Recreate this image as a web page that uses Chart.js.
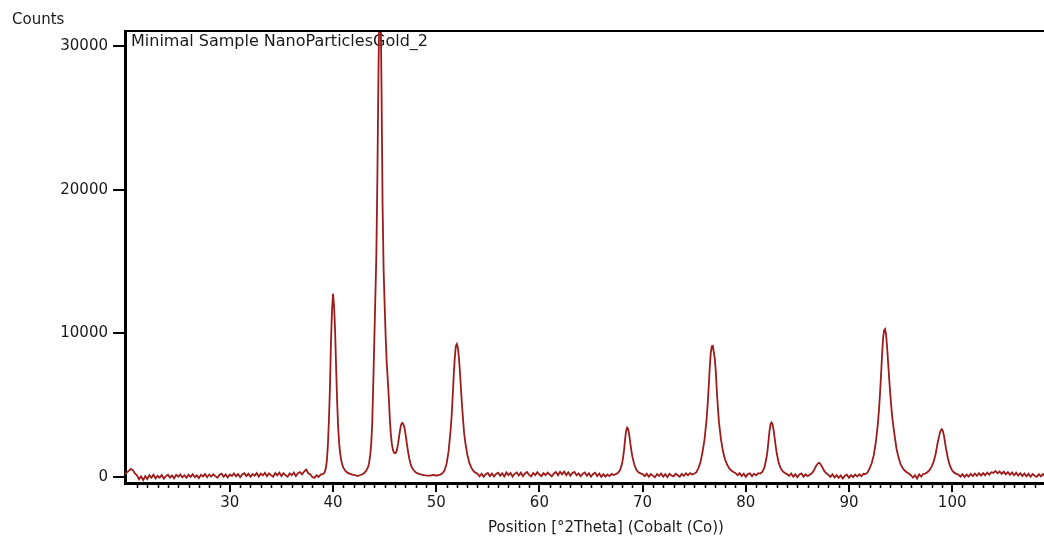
<!DOCTYPE html>
<html>
<head>
<meta charset="utf-8">
<script src="https://cdn.jsdelivr.net/npm/chart.js@4.4.1/dist/chart.umd.min.js"></script>
<style>
  html, body { margin: 0; padding: 0; background: #fff; }
  #wrap { width: 1044px; height: 538px; }
</style>
</head>
<body>
<div id="wrap"><canvas id="xrdChart" width="1044" height="538"></canvas></div>
<script>
// scan positions [°2Theta]
const twoTheta = [
  19.8, 20.0, 20.2, 20.4, 20.6, 20.8, 21.0, 21.2, 21.4, 21.6,
  21.8, 22.0, 22.2, 22.4, 22.6, 22.8, 23.0, 23.2, 23.4, 23.6,
  23.8, 24.0, 24.2, 24.4, 24.6, 24.8, 25.0, 25.2, 25.4, 25.6,
  25.8, 26.0, 26.2, 26.4, 26.6, 26.8, 27.0, 27.2, 27.4, 27.6,
  27.8, 28.0, 28.2, 28.4, 28.6, 28.8, 29.0, 29.2, 29.4, 29.6,
  29.8, 30.0, 30.2, 30.4, 30.6, 30.8, 31.0, 31.2, 31.4, 31.6,
  31.8, 32.0, 32.2, 32.4, 32.6, 32.8, 33.0, 33.2, 33.4, 33.6,
  33.8, 34.0, 34.2, 34.4, 34.6, 34.8, 35.0, 35.2, 35.4, 35.6,
  35.8, 36.0, 36.2, 36.4, 36.6, 36.8, 37.0, 37.2, 37.4, 37.6,
  37.8, 38.0, 38.2, 38.4, 38.6, 38.8, 39.0, 39.1, 39.2, 39.3,
  39.4, 39.5, 39.6, 39.7, 39.8, 39.9, 40.0, 40.1, 40.2, 40.3,
  40.4, 40.5, 40.6, 40.7, 40.8, 40.9, 41.0, 41.2, 41.4, 41.6,
  41.8, 42.0, 42.2, 42.4, 42.6, 42.8, 43.0, 43.2, 43.4, 43.5,
  43.6, 43.7, 43.8, 43.9, 44.0, 44.1, 44.2, 44.3, 44.4, 44.5,
  44.6, 44.7, 44.8, 44.9, 45.0, 45.1, 45.2, 45.3, 45.4, 45.5,
  45.6, 45.7, 45.8, 45.9, 46.0, 46.1, 46.2, 46.3, 46.4, 46.5,
  46.6, 46.7, 46.8, 46.9, 47.0, 47.1, 47.2, 47.3, 47.4, 47.5,
  47.6, 47.8, 48.0, 48.2, 48.4, 48.6, 48.8, 49.0, 49.2, 49.4,
  49.6, 49.8, 50.0, 50.2, 50.4, 50.6, 50.8, 51.0, 51.2, 51.4,
  51.5, 51.6, 51.7, 51.8, 51.9, 52.0, 52.1, 52.2, 52.3, 52.4,
  52.5, 52.6, 52.7, 52.8, 53.0, 53.2, 53.4, 53.6, 53.8, 54.0,
  54.2, 54.4, 54.6, 54.8, 55.0, 55.2, 55.4, 55.6, 55.8, 56.0,
  56.2, 56.4, 56.6, 56.8, 57.0, 57.2, 57.4, 57.6, 57.8, 58.0,
  58.2, 58.4, 58.6, 58.8, 59.0, 59.2, 59.4, 59.6, 59.8, 60.0,
  60.2, 60.4, 60.6, 60.8, 61.0, 61.2, 61.4, 61.6, 61.8, 62.0,
  62.2, 62.4, 62.6, 62.8, 63.0, 63.2, 63.4, 63.6, 63.8, 64.0,
  64.2, 64.4, 64.6, 64.8, 65.0, 65.2, 65.4, 65.6, 65.8, 66.0,
  66.2, 66.4, 66.6, 66.8, 67.0, 67.2, 67.4, 67.6, 67.8, 68.0,
  68.1, 68.2, 68.3, 68.4, 68.5, 68.6, 68.7, 68.8, 68.9, 69.0,
  69.2, 69.4, 69.6, 69.8, 70.0, 70.2, 70.4, 70.6, 70.8, 71.0,
  71.2, 71.4, 71.6, 71.8, 72.0, 72.2, 72.4, 72.6, 72.8, 73.0,
  73.2, 73.4, 73.6, 73.8, 74.0, 74.2, 74.4, 74.6, 74.8, 75.0,
  75.2, 75.4, 75.6, 75.8, 76.0, 76.2, 76.3, 76.4, 76.5, 76.6,
  76.7, 76.8, 76.9, 77.0, 77.1, 77.2, 77.3, 77.4, 77.6, 77.8,
  78.0, 78.2, 78.4, 78.6, 78.8, 79.0, 79.2, 79.4, 79.6, 79.8,
  80.0, 80.2, 80.4, 80.6, 80.8, 81.0, 81.2, 81.4, 81.6, 81.8,
  82.0, 82.1, 82.2, 82.3, 82.4, 82.5, 82.6, 82.7, 82.8, 82.9,
  83.0, 83.2, 83.4, 83.6, 83.8, 84.0, 84.2, 84.4, 84.6, 84.8,
  85.0, 85.2, 85.4, 85.6, 85.8, 86.0, 86.2, 86.4, 86.6, 86.8,
  87.0, 87.1, 87.2, 87.4, 87.6, 87.8, 88.0, 88.2, 88.4, 88.6,
  88.8, 89.0, 89.2, 89.4, 89.6, 89.8, 90.0, 90.2, 90.4, 90.6,
  90.8, 91.0, 91.2, 91.4, 91.6, 91.8, 92.0, 92.2, 92.4, 92.6,
  92.8, 92.9, 93.0, 93.1, 93.2, 93.3, 93.4, 93.5, 93.6, 93.7,
  93.8, 93.9, 94.0, 94.1, 94.2, 94.4, 94.6, 94.8, 95.0, 95.2,
  95.4, 95.6, 95.8, 96.0, 96.2, 96.4, 96.6, 96.8, 97.0, 97.2,
  97.4, 97.6, 97.8, 98.0, 98.2, 98.4, 98.6, 98.8, 98.9, 99.0,
  99.1, 99.2, 99.3, 99.4, 99.6, 99.8, 100.0, 100.2, 100.4, 100.6,
  100.8, 101.0, 101.2, 101.4, 101.6, 101.8, 102.0, 102.2, 102.4, 102.6,
  102.8, 103.0, 103.2, 103.4, 103.6, 103.8, 104.0, 104.2, 104.4, 104.6,
  104.8, 105.0, 105.2, 105.4, 105.6, 105.8, 106.0, 106.2, 106.4, 106.6,
  106.8, 107.0, 107.2, 107.4, 107.6, 107.8, 108.0, 108.2, 108.4, 108.6,
  108.8, 109.0
];

// counts at each position (same row layout as twoTheta)
const counts = [
  150, 300, 420, 560, 480, 250, 120, -160, 40, -220,
  60, -140, 130, -60, 150, -100, 80, -50, 140, -120,
  60, 160, -40, 110, -90, 150, 20, 180, -30, 120,
  -60, 160, 10, 190, -20, 110, -80, 150, 40, 210,
  -20, 170, 30, 190, 60, -50, 150, 230, 20, 180,
  -30, 170, 60, 240, 40, 200, -20, 180, 260, 60,
  220, 20, 200, 90, 270, 30, 230, 100, 290, 60,
  250, 110, 20, 270, 120, 310, 60, 260, 110, 20,
  250, 120, 310, 60, 260, 340, 180, 380, 520, 260,
  180, 0, -60, 120, 0, 160, 200, 240, 340, 600,
  1100, 2200, 3900, 6200, 9400, 11600, 12750, 11900, 10200, 7600,
  5200, 3400, 2300, 1600, 1150, 850, 650, 420, 300, 230,
  180, 140, 110, 60, 120, 170, 260, 420, 700, 1000,
  1500, 2300, 3800, 6500, 9500, 12500, 15500, 21000, 28000, 33000,
  33500, 27000, 19000, 14500, 12000, 9800, 8000, 6800, 5600, 4100,
  3000, 2300, 1900, 1700, 1650, 1700, 1900, 2300, 2800, 3300,
  3650, 3770, 3700, 3500, 3100, 2600, 2100, 1650, 1250, 950,
  720, 480, 330, 250, 200, 160, 130, 110, 100, 90,
  120, 150, 90, 130, 160, 250, 450, 900, 1800, 3300,
  4300, 5700, 7100, 8300, 9100, 9250, 9000, 8300, 7300, 6100,
  5000, 4000, 3100, 2500, 1600, 1000, 650, 420, 300, 220,
  40, 220, 20, 200, 280, 60, 240, 30, 210, 300,
  80, 260, 40, 320, 130, 280, 30, 220, 310, 100,
  300, 60, 240, 350, 140, 40, 280, 130, 330, 170,
  60, 260, 120, 310, 170, 40, 250, 340, 120, 360,
  190, 380, 130, 320, 90, 280, 350, 110, 250, 50,
  230, 310, 90, 260, 20, 210, 300, 60, 240, 10,
  200, 20, 170, 60, 210, 130, 200, 280, 450, 900,
  1300, 1850, 2600, 3200, 3440, 3350, 2950, 2400, 1900, 1450,
  850, 500, 330, 250, 200, 60, 230, 20, 200, 80,
  -20, 200, 70, 240, 20, 190, -10, 220, 100, 40,
  230, 120, 10, 210, 70, 260, 120, 270, 170, 220,
  320, 600, 1000, 1700, 2600, 4000, 5000, 6200, 7500, 8600,
  9100, 9130, 8700, 8200, 7300, 5900, 4800, 3800, 2600, 1750,
  1200, 850, 600, 450, 350, 280, 120, 260, 60, 230,
  10, 200, 250, 50, 230, 110, 260, 240, 350, 650,
  1300, 1800, 2500, 3200, 3700, 3800, 3650, 3250, 2700, 2150,
  1650, 950, 580, 380, 280, 200, 70, 240, 20, 190,
  -20, 170, 240, 20, 190, 60, 160, 250, 450, 750,
  950, 990, 930, 700, 420, 260, 150, 10, 190, -40,
  130, -60, 110, -100, 80, 160, -50, 130, -10, 170,
  30, 190, 50, 220, 200, 320, 600, 950, 1500, 2400,
  3700, 4600, 5700, 7000, 8400, 9600, 10200, 10290, 9900, 9000,
  7900, 6800, 5800, 4900, 4100, 3000, 2000, 1350, 900, 620,
  450, 330, 240, 120, -40, 120, -120, 180, 20, 220,
  240, 330, 480, 700, 1050, 1600, 2400, 3050, 3250, 3320,
  3200, 2900, 2450, 2000, 1250, 750, 450, 300, 220, 170,
  20, 190, -10, 170, 30, 220, 60, 240, 80, 260,
  90, 270, 120, 310, 160, 330, 280, 420, 260, 380,
  220, 370, 180, 330, 150, 310, 120, 290, 100, 260,
  60, 240, 50, 220, 20, 210, 90, 10, 190, 40,
  200, 80
];

const xTickValues = [30, 40, 50, 60, 70, 80, 90, 100];
const yTickValues = [0, 10000, 20000, 30000];

const yAxisLabel = 'Counts';
const xAxisTitle = 'Position [°2Theta] (Cobalt (Co))';
const sampleName = 'Minimal Sample NanoParticlesGold_2';

const FONT = 'DejaVu Sans';

const framePlugin = {
  id: 'frame',
  beforeDatasetsDraw(chart) {
    const { ctx, chartArea } = chart;
    ctx.save();
    ctx.fillStyle = '#1a1a1a';
    ctx.font = `16px "${FONT}"`;
    ctx.textAlign = 'left';
    ctx.textBaseline = 'middle';
    ctx.fillText(sampleName, chartArea.left + 6, chartArea.top + 11);
    ctx.restore();
  },
  afterDraw(chart) {
    const { ctx, chartArea } = chart;
    const xs = chart.scales.x;
    ctx.save();
    // top frame line
    ctx.strokeStyle = '#000';
    ctx.lineWidth = 2;
    ctx.beginPath();
    ctx.moveTo(chartArea.left - 1, chartArea.top);
    ctx.lineTo(chartArea.right, chartArea.top);
    ctx.stroke();
    // minor x ticks every 1 degree
    ctx.lineWidth = 1.5;
    ctx.beginPath();
    for (let v = Math.ceil(xs.min); v <= xs.max; v++) {
      if (v % 10 === 0) continue;
      const px = Math.round(xs.getPixelForValue(v)) + 0.5;
      ctx.moveTo(px, chartArea.bottom);
      ctx.lineTo(px, chartArea.bottom + 5);
    }
    ctx.stroke();
    // axis texts
    ctx.fillStyle = '#1a1a1a';
    ctx.font = `15px "${FONT}"`;
    ctx.textAlign = 'left';
    ctx.textBaseline = 'middle';
    ctx.fillText(yAxisLabel, 12, 20);
    ctx.fillText(xAxisTitle, 488, 528);
    ctx.restore();
  }
};

const ctx = document.getElementById('xrdChart').getContext('2d');
new Chart(ctx, {
  type: 'line',
  data: {
    datasets: [
      {
        label: sampleName,
        data: twoTheta.map((x, i) => ({ x: x, y: counts[i] })),
        borderColor: '#9c1c1c',
        borderWidth: 1.8,
        pointRadius: 0,
        tension: 0,
        fill: false
      }
    ]
  },
  options: {
    responsive: false,
    animation: false,
    layout: { padding: { top: 31, right: 0, bottom: 0, left: 0 } },
    plugins: {
      legend: { display: false },
      tooltip: { enabled: false }
    },
    scales: {
      x: {
        type: 'linear',
        min: 19.84,
        max: 108.9,
        afterBuildTicks: (scale) => {
          scale.ticks = xTickValues.map((v) => ({ value: v }));
        },
        afterFit: (scale) => {
          scale.height = 55;
        },
        grid: {
          drawOnChartArea: false,
          drawTicks: true,
          tickLength: 9,
          color: '#000',
          lineWidth: 2
        },
        border: { display: true, color: '#000', width: 3 },
        ticks: {
          padding: 2,
          color: '#1a1a1a',
          maxRotation: 0,
          autoSkip: false,
          font: { family: FONT, size: 15 }
        }
      },
      y: {
        min: -420,
        max: 31050,
        afterBuildTicks: (scale) => {
          scale.ticks = yTickValues.map((v) => ({ value: v }));
        },
        afterFit: (scale) => {
          scale.width = 125;
        },
        grid: {
          drawOnChartArea: false,
          drawTicks: true,
          tickLength: 12,
          color: '#000',
          lineWidth: 2
        },
        border: { display: true, color: '#000', width: 3 },
        ticks: {
          padding: 5,
          color: '#1a1a1a',
          font: { family: FONT, size: 15 },
          callback: (v) => String(v)
        }
      }
    }
  },
  plugins: [framePlugin]
});
</script>
</body>
</html>
